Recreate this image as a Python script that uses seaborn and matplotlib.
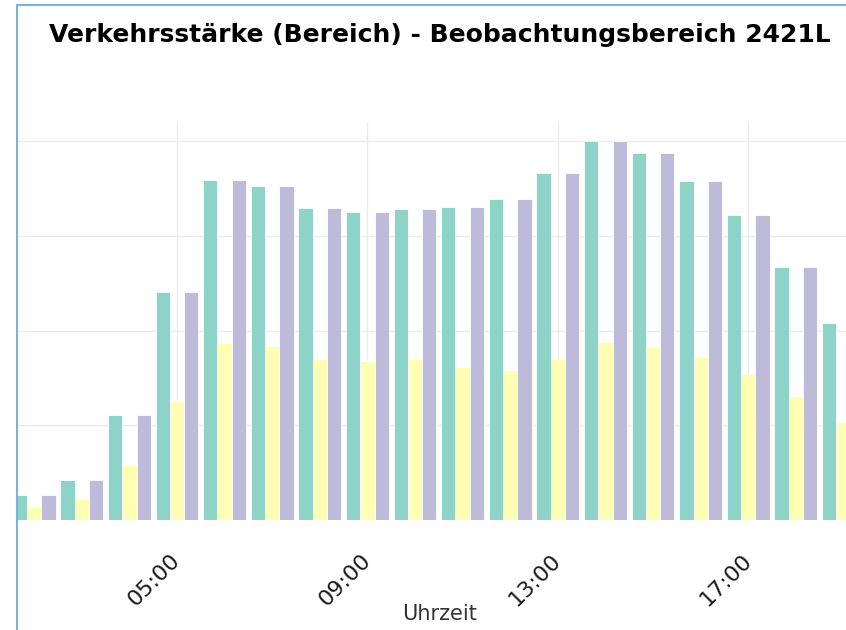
import pandas as pd
import matplotlib.pyplot as plt
import seaborn as sns
from matplotlib.lines import Line2D

# --- Daten ---
stunden = ['02:00', '03:00', '04:00', '05:00', '06:00', '07:00', '08:00', '09:00', '10:00',
           '11:00', '12:00', '13:00', '14:00', '15:00', '16:00', '17:00', '18:00', '19:00']
richtung_1 = [132, 211, 554, 1204, 1795, 1763, 1647, 1626, 1642,
              1653, 1695, 1832, 2000, 1938, 1790, 1610, 1336, 1040]
schwerverkehr = [69, 111, 290, 628, 935, 919, 850, 840, 850,
                 808, 792, 850, 940, 913, 861, 771, 655, 517]
richtung_2 = [132, 211, 554, 1204, 1795, 1763, 1647, 1626, 1642,
              1653, 1695, 1832, 2000, 1938, 1790, 1610, 1336, 1040]

reihen = ['Richtung 1', 'Schwerverkehr', 'Richtung 2']
tick_stunden = ['05:00', '09:00', '13:00', '17:00']

df = pd.DataFrame({
    'Uhrzeit': stunden * 3,
    'Wert': richtung_1 + schwerverkehr + richtung_2,
    'Reihe': [reihen[0]] * len(stunden) + [reihen[1]] * len(stunden) + [reihen[2]] * len(stunden),
})

sns.set_style('white')
plt.rcParams['font.family'] = ['DejaVu Sans']

fig = plt.figure(figsize=(8.46, 6.30), dpi=100)
ax = fig.add_axes([17 / 846, 110 / 630, 846 / 846, 398 / 630])

sns.barplot(data=df, x='Uhrzeit', y='Wert', hue='Reihe', order=stunden, hue_order=reihen,
            palette='Set3', saturation=1, width=0.9, edgecolor='white', linewidth=0.6,
            legend=False, ax=ax)

ax.set_xlim(-0.361, 17.41)
ax.set_ylim(0, 2101)
ax.set_yticks([500, 1000, 1500, 2000])
ax.tick_params(axis='y', length=0, labelleft=False)

pos = [stunden.index(t) for t in tick_stunden]
ax.set_xticks(pos)
ax.set_xticklabels(tick_stunden, rotation=45, ha='right', va='center', rotation_mode='anchor',
                   fontsize=16, color='#1a1a1a')
ax.tick_params(axis='x', length=19, width=1, color='#e6e6e6', pad=8)

ax.set_axisbelow(True)
ax.grid(True, color='#ebebeb', linewidth=1)
for s in ax.spines.values():
    s.set_visible(False)

ax.set_xlabel('Uhrzeit', fontsize=15, color='#333333')
ax.set_ylabel('')
ax.xaxis.set_label_coords((440 - 17) / 846, -0.212)

fig.text(440 / 846, 1 - 35 / 630, 'Verkehrsstärke (Bereich) - Beobachtungsbereich 2421L',
         ha='center', va='center', fontsize=18, fontweight='bold', color='black')

# Rahmen links und oben
fig.add_artist(Line2D([16.5 / 846, 16.5 / 846], [0, 1 - 5 / 630], color='#7ab4d8', linewidth=1.5))
fig.add_artist(Line2D([16.5 / 846, 1], [1 - 5 / 630, 1 - 5 / 630], color='#7ab4d8', linewidth=1.5))

fig.savefig('out.png', dpi=100)
